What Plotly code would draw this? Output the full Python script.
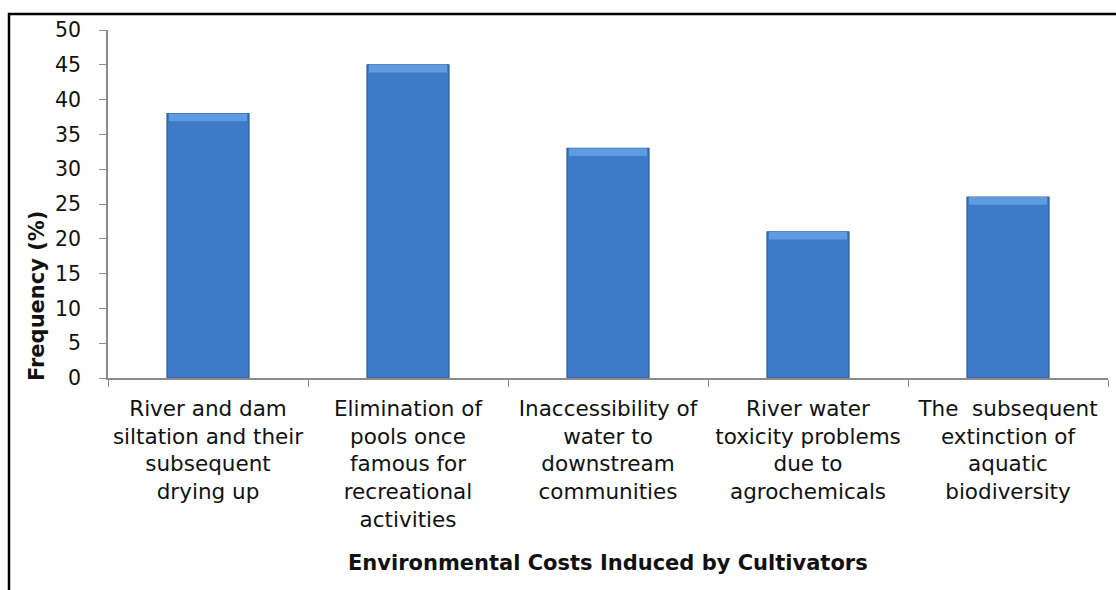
import plotly.graph_objects as go

categories = [
    "River and dam<br>siltation and their<br>subsequent<br>drying up",
    "Elimination of<br>pools once<br>famous for<br>recreational<br>activities",
    "Inaccessibility of<br>water to<br>downstream<br>communities",
    "River water<br>toxicity problems<br>due to<br>agrochemicals",
    "The  subsequent<br>extinction of<br>aquatic<br>biodiversity",
]
frequency = [38, 45, 33, 21, 26]
y_ticks = [0, 5, 10, 15, 20, 25, 30, 35, 40, 45, 50]
x_title = "Environmental Costs Induced by Cultivators"
y_title = "Frequency (%)"

FONT = "DejaVu Sans"
W, H = 1116, 590
L, R, T, B = 108, 8, 30, 212
plot_h = H - T - B

bevel = 1.1
fig = go.Figure()
fig.add_trace(go.Bar(
    x=categories, y=frequency, width=0.41,
    marker=dict(color="#3E7BC7", line=dict(color="#2E5D97", width=1.2)),
    hoverinfo="skip", showlegend=False,
))
fig.add_trace(go.Bar(
    x=categories, y=[bevel] * len(frequency),
    base=[v - bevel for v in frequency], width=0.39,
    marker=dict(color="#5F9BE0", line=dict(width=0)),
    hoverinfo="skip", showlegend=False,
))

fig.update_layout(
    width=W, height=H,
    margin=dict(l=L, r=R, t=T, b=B),
    paper_bgcolor="white", plot_bgcolor="white",
    barmode="overlay",
    font=dict(family=FONT, size=21, color="#111111"),
    xaxis=dict(
        type="category", tickson="boundaries", ticks="outside", ticklen=7,
        tickcolor="#8C8C8C", showline=True, linecolor="#8C8C8C", linewidth=1.5,
        showgrid=False, tickfont=dict(family=FONT, size=21.5, color="#111111"),
        range=[-0.5, 4.5], ticklabelstandoff=10,
    ),
    yaxis=dict(
        range=[0, 50], tickvals=y_ticks, ticks="outside", ticklen=7,
        tickcolor="#8C8C8C", showline=True, linecolor="#8C8C8C", linewidth=1.5,
        showgrid=False, zeroline=False, ticklabelstandoff=14,
        tickfont=dict(family=FONT, size=20.5, color="#111111"),
    ),
    shapes=[dict(
        type="rect", xref="paper", yref="paper",
        x0=(9 - L) / (W - L - R), x1=1.05,
        y0=-1.0, y1=(H - B - 14) / plot_h,
        line=dict(color="black", width=2.5), fillcolor="rgba(0,0,0,0)",
        layer="below",
    )],
    annotations=[
        dict(text="<b>" + x_title + "</b>", xref="paper", yref="paper",
             x=0.5, y=(H - B - 563) / plot_h, xanchor="center", yanchor="middle",
             showarrow=False, font=dict(family=FONT, size=21, color="#111111")),
        dict(text="<b>" + y_title + "</b>", xref="paper", yref="paper",
             x=(37 - L) / (W - L - R), y=(H - B - 296) / plot_h,
             xanchor="center", yanchor="middle", textangle=-90,
             showarrow=False, font=dict(family=FONT, size=21, color="#111111")),
    ],
)

fig.write_html("out.html")
